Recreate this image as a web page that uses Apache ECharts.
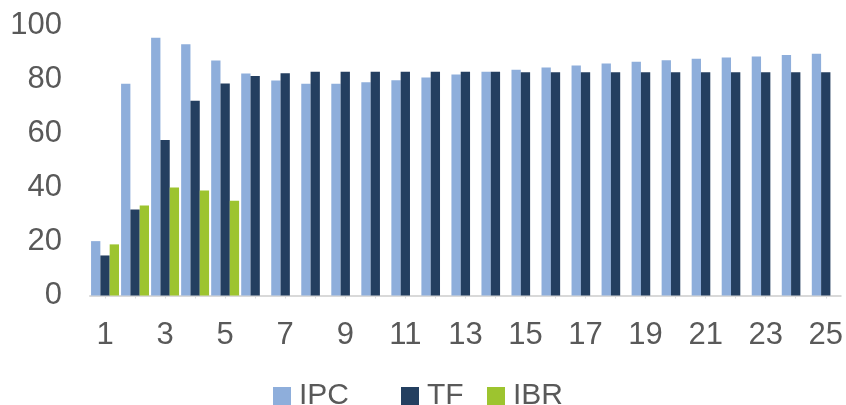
<!DOCTYPE html>
<html>
<head>
<meta charset="utf-8">
<script src="https://cdn.jsdelivr.net/npm/echarts@6/dist/echarts.min.js"></script>
<style>
  html, body { margin: 0; padding: 0; background: #ffffff; }
  #chart { width: 846px; height: 405px; }
</style>
</head>
<body>
<div id="chart"></div>
<script>
// Periods 1..25
const categories = Array.from({ length: 25 }, (_, i) => String(i + 1));

// Series values
const ipcValues = [20.1, 78.3, 95.3, 92.9, 86.9, 82.1, 79.5, 78.3, 78.3, 78.8,
                   79.6, 80.6, 81.7, 82.7, 83.5, 84.3, 85.0, 85.8, 86.4, 87.0,
                   87.5, 88.0, 88.4, 88.9, 89.4];
const tfValues  = [14.8, 31.8, 57.5, 72.0, 78.4, 81.1, 82.2, 82.7, 82.7, 82.7,
                   82.7, 82.7, 82.7, 82.7, 82.5, 82.5, 82.5, 82.5, 82.5, 82.5,
                   82.5, 82.5, 82.5, 82.5, 82.5];
const ibrValues = [18.9, 33.3, 39.9, 38.8, 35.0, null, null, null, null, null,
                   null, null, null, null, null, null, null, null, null, null,
                   null, null, null, null, null];

const seriesNames = ['IPC', 'TF', 'IBR'];
const seriesColors = ['#8EAEDB', '#243F60', '#9DC42F'];

const textColor = '#595959';
const fontFamily = '"Liberation Sans", Arial, sans-serif';

// One legend per series so each entry sits at its own x position
function legendFor(name, left) {
  return {
    data: [name],
    left: left,
    top: 381,
    itemWidth: 18,
    itemHeight: 18,
    itemGap: 0,
    icon: 'rect',
    textStyle: { color: textColor, fontSize: 30, fontFamily: fontFamily, padding: [0, 0, 0, 3] },
    padding: 0,
    selectedMode: false
  };
}

const chart = echarts.init(document.getElementById('chart'), null, { renderer: 'canvas' });

chart.setOption({
  animation: false,
  backgroundColor: '#ffffff',
  grid: { left: 90, right: 5, top: 25, bottom: 109.5, containLabel: false },
  legend: [
    legendFor(seriesNames[0], 273),
    legendFor(seriesNames[1], 401),
    legendFor(seriesNames[2], 487)
  ],
  xAxis: {
    type: 'category',
    data: categories,
    axisLine: { lineStyle: { color: '#D9D9D9', width: 2 } },
    axisTick: { show: true, interval: 0, alignWithLabel: true, length: 3, lineStyle: { color: '#D9D9D9' } },
    axisLabel: {
      interval: 1,
      color: textColor,
      fontSize: 31,
      fontFamily: fontFamily,
      margin: 24
    },
    splitLine: { show: false }
  },
  yAxis: {
    type: 'value',
    min: 0,
    max: 100,
    interval: 20,
    axisLine: { show: false },
    axisTick: { show: false },
    splitLine: { show: false },
    axisLabel: {
      color: textColor,
      fontSize: 31,
      fontFamily: fontFamily,
      margin: 28
    }
  },
  series: [
    { name: seriesNames[0], type: 'bar', data: ipcValues, itemStyle: { color: seriesColors[0] },
      barGap: '0%', barCategoryGap: '7%' },
    { name: seriesNames[1], type: 'bar', data: tfValues, itemStyle: { color: seriesColors[1] },
      barGap: '0%', barCategoryGap: '7%' },
    { name: seriesNames[2], type: 'bar', data: ibrValues, itemStyle: { color: seriesColors[2] },
      barGap: '0%', barCategoryGap: '7%' }
  ]
});
</script>
</body>
</html>
